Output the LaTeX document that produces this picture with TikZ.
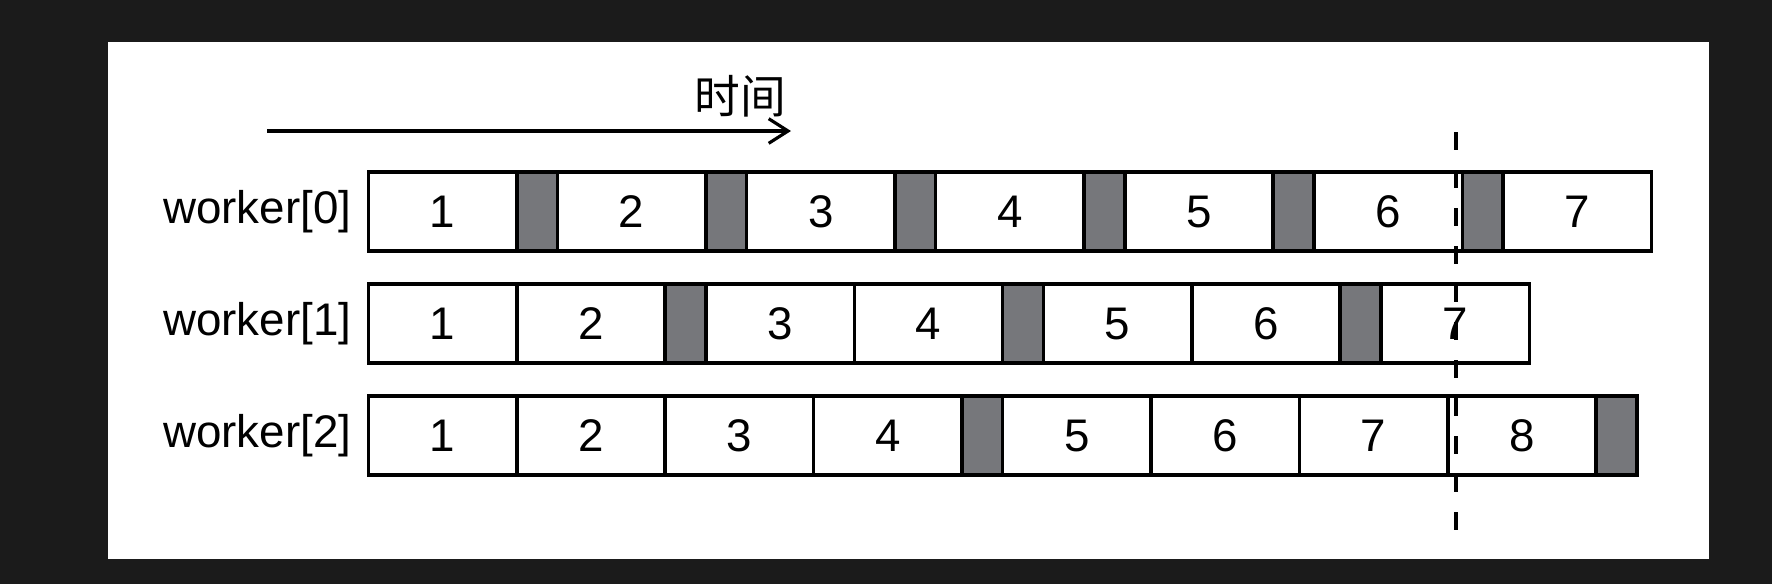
\documentclass[tikz,border=0pt]{standalone}
\usepackage{fontspec}
\setmainfont{Liberation Sans}
\newfontfamily\cjk{Noto Sans CJK SC}
\usetikzlibrary{arrows.meta,positioning}
\definecolor{slotgray}{RGB}{118,119,123}
\definecolor{pagedark}{RGB}{27,27,27}

\begin{document}
\begin{tikzpicture}[x=0.01cm,y=-0.01cm,
  every node/.style={font=\fontsize{13pt}{15pt}\selectfont},
  task/.style={draw,line width=1pt,fill=white,minimum width=1.483cm,minimum height=0.79cm,inner sep=0pt,outer sep=0pt},
  wait/.style={task,fill=slotgray,minimum width=0.407cm},
  lbl/.style={anchor=east,inner sep=0pt}]
% page
\useasboundingbox (0,0) rectangle (1772,584);
\fill[pagedark] (0,0) rectangle (1772,584);
\fill[white] (108,42) rectangle (1709,559);
% time axis
\coordinate (t0) at (267,131);
\coordinate (t1) at (791,131);
\draw[line width=0.9pt,-{Straight Barb[length=5.5pt,width=7pt]}] (t0)--(t1);
\node (tlbl) at (740,96) {\cjk 时间};
% workers
\foreach \r/\seq in {0/{/wait,2/task,/wait,3/task,/wait,4/task,/wait,5/task,/wait,6/task,/wait,7/task},
  1/{2/task,/wait,3/task,4/task,/wait,5/task,6/task,/wait,7/task},
  2/{2/task,3/task,4/task,/wait,5/task,6/task,7/task,8/task,/wait}}{
  \node[lbl] (w\r) at (352,211.5+112*\r) {worker[\r]};
  \node[task,anchor=west] (s\r-1) at (368.4,211.5+112*\r) {1};
  \foreach \t/\k [count=\i from 2,remember=\i as \j (initially 1)] in \seq
    \node[\k,right=0pt of s\r-\j] (s\r-\i) {\t};
}
% cut
\coordinate (c0) at (1456,132);
\coordinate (c1) at (1456,531);
\draw[line width=0.9pt,dash pattern=on 0.18cm off 0.2cm] (c0)--(c1);
\end{tikzpicture}
\end{document}
